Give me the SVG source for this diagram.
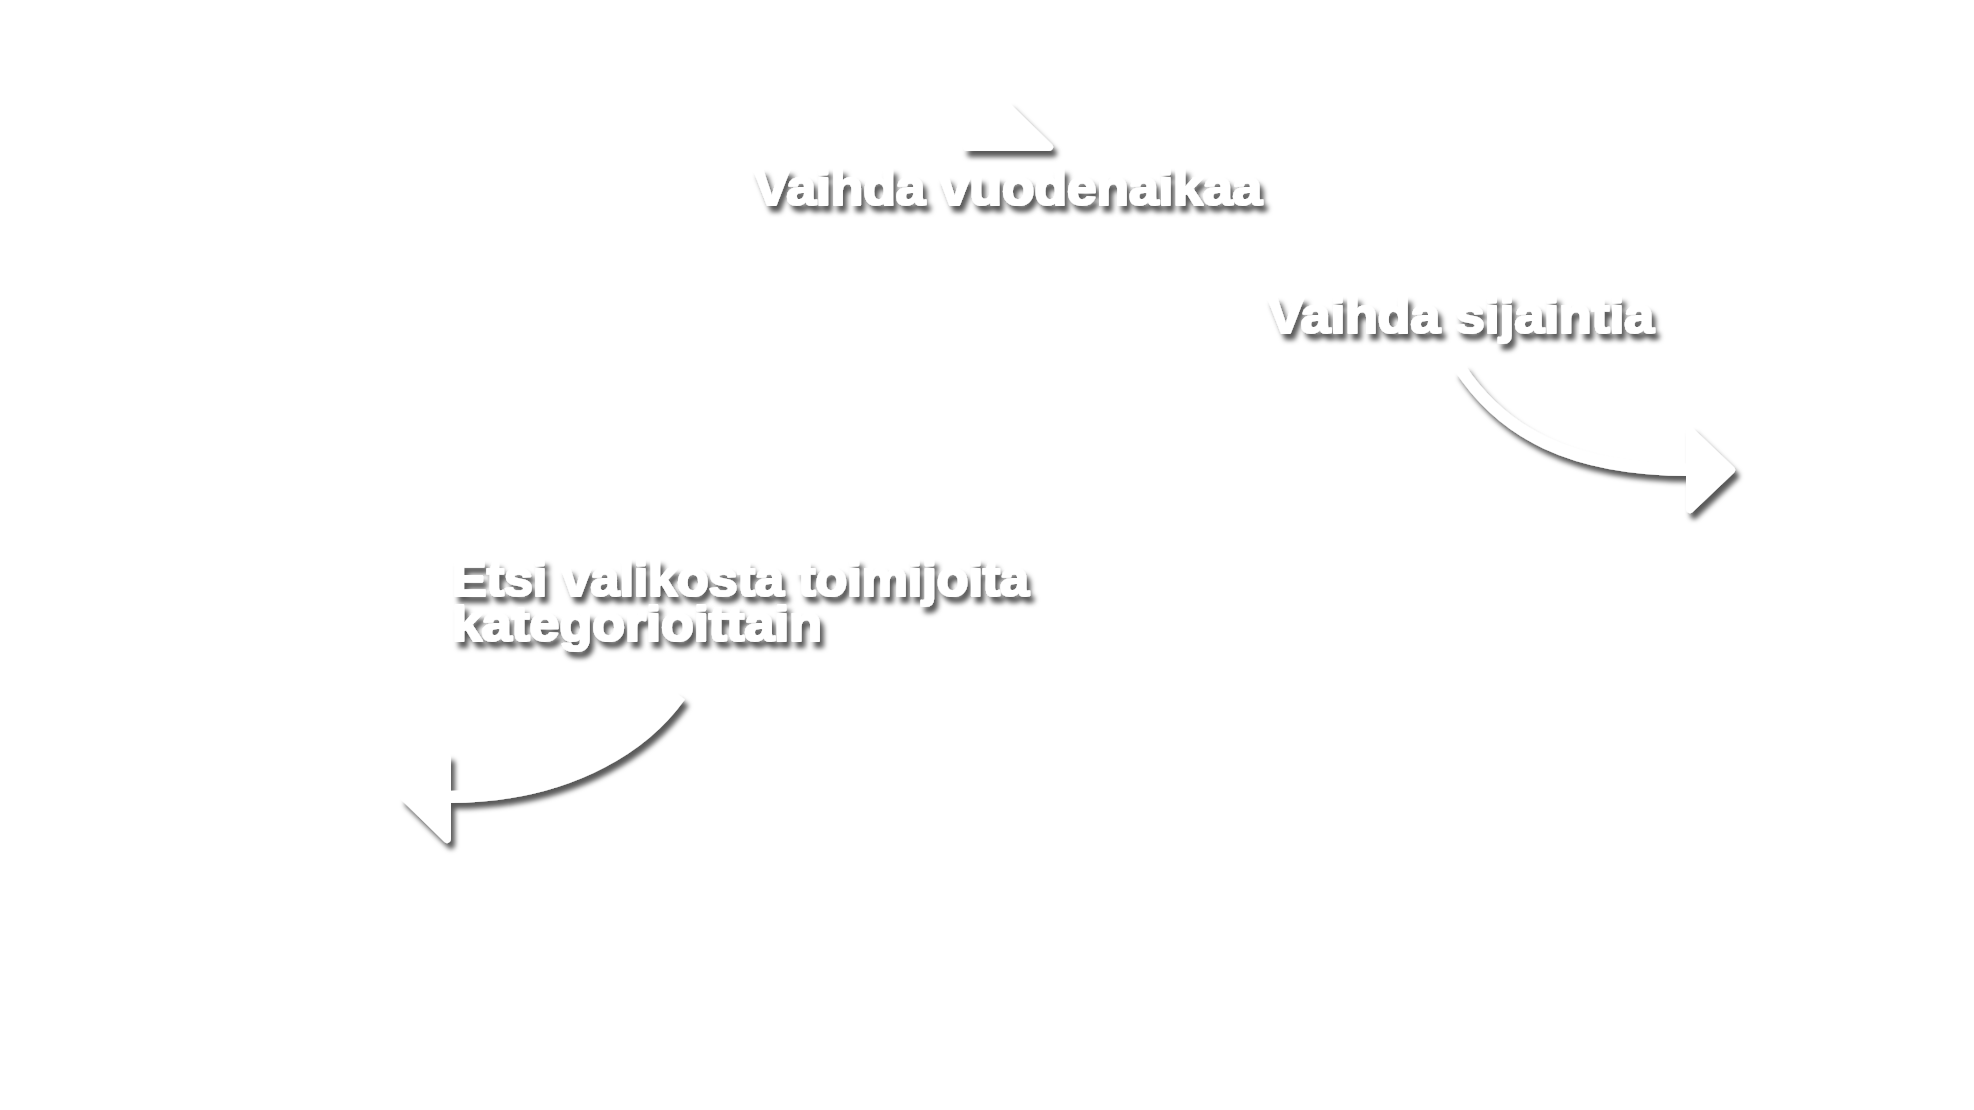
<svg xmlns="http://www.w3.org/2000/svg" width="1974" height="1110" viewBox="0 0 1974 1110">
<defs>
<filter id="sh" x="-20%" y="-40%" width="140%" height="180%">
<feDropShadow dx="4" dy="6" stdDeviation="2.8" flood-color="#000" flood-opacity="0.65"/>
</filter>
</defs>
<style>
.lbl{font-family:"Liberation Sans","Noto Sans",Arial,sans-serif;font-weight:bold;font-size:50px;fill:#fff;stroke:#fff;stroke-width:2.2;stroke-linejoin:round;filter:url(#sh)}
.ln{fill:none;stroke:#fff;stroke-width:12;stroke-linecap:butt}
.hd{fill:#fff;stroke:#fff;stroke-width:8;stroke-linejoin:round}
.arr{filter:url(#sh)}
</style>
<rect width="1974" height="1110" fill="#fff"/>
<g id="connectors">
<g class="arr" id="arrow-up">
<polygon class="hd" points="967,147 1008,107 1049,147"/>
</g>
<g class="arr" id="arrow-right">
<path class="ln" d="M1460,368 C1502,432 1570,470 1690,470"/>
<polygon class="hd" points="1690,431 1731,470 1690,509"/>
</g>
<g class="arr" id="arrow-left">
<path class="ln" d="M680,696 C640,752 560,797 448,797"/>
<polygon class="hd" points="447,758 405,798 447,839"/>
</g>
</g>
<g id="label-season">
<text class="lbl" x="754" y="205" textLength="508" lengthAdjust="spacingAndGlyphs">Vaihda vuodenaikaa</text>
</g>
<g id="label-location">
<text class="lbl" x="1268" y="333" textLength="386" lengthAdjust="spacingAndGlyphs">Vaihda sijaintia</text>
</g>
<g id="label-categories">
<text class="lbl" x="452" y="596" textLength="577" lengthAdjust="spacingAndGlyphs">Etsi valikosta toimijoita</text>
<text class="lbl" x="452" y="641" textLength="370" lengthAdjust="spacingAndGlyphs">kategorioittain</text>
</g>
</svg>
